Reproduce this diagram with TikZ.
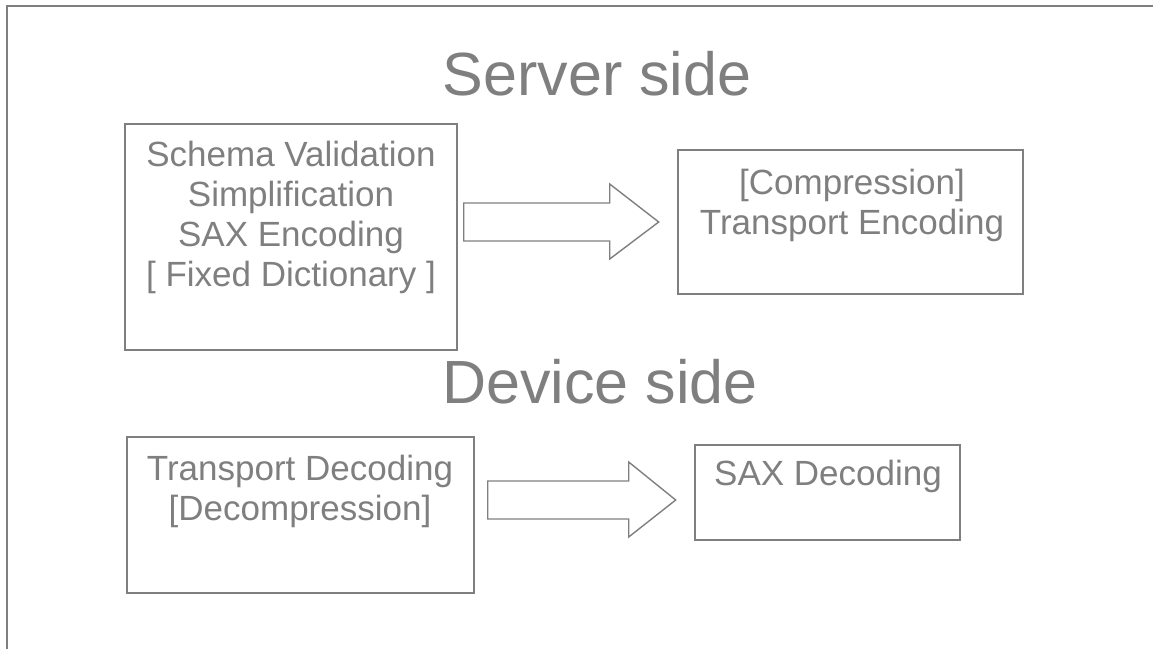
\documentclass[tikz,border=0pt]{standalone}
\usepackage{fontspec}
\setmainfont{Liberation Sans}
\usetikzlibrary{calc}
\definecolor{ink}{HTML}{7F7F7F}
\begin{document}
\begin{tikzpicture}[x=1pt,y=-1pt,
  frame/.style={draw=ink,line width=2pt},
  stage/.style={draw=ink,line width=1.4pt,inner sep=0pt},
  steps/.style={text=ink,align=center,inner sep=0pt,anchor=base,
    font=\fontsize{35}{40}\selectfont},
  heading/.style={text=ink,inner sep=0pt,anchor=base,
    font=\fontsize{61}{70}\selectfont},
  flow/.style={draw=ink,line width=1.4pt,line join=miter}]
\useasboundingbox (0,0) rectangle (1153,649);
% page frame: top and left edges only
\draw[frame] (7,649) -- (7,6) -- (1153,6);

% headings
\node[heading] (server) at (597,95) {Server side};
\node[heading] (device) at (600,403) {Device side};

% server side stages (text nodes anchored at the baseline of their last line)
\node[stage,minimum width=332pt,minimum height=226pt] (enc1) at (291,237) {};
\node[steps] (enc1t) at (291,286) {Schema Validation\\Simplification\\SAX Encoding\\{[} Fixed Dictionary ]};
\node[stage,minimum width=345pt,minimum height=144pt] (enc2) at (850.5,222) {};
\node[steps] (enc2t) at (852,234) {[Compression]\\Transport Encoding};

% device side stages
\node[stage,minimum width=347pt,minimum height=156pt] (dec1) at (300.5,515) {};
\node[steps] (dec1t) at (300,520) {Transport Decoding\\{[}Decompression]};
\node[stage,minimum width=265pt,minimum height=95pt] (dec2) at (827.5,492.5) {};
\node[steps] (dec2t) at (828,485) {SAX Decoding};

% block arrows between stages
\coordinate (a1) at ($(enc1.east |- enc2.center)+(6,-19)$);
\draw[flow] (a1)
  -- ++(146,0) -- ++(0,-19) -- ++(49,38) -- ++(-49,37) -- ++(0,-18) -- ++(-146,0) -- cycle;
\coordinate (a2) at ($(dec1.east |- dec2.center)+(13,-11.5)$);
\draw[flow] (a2)
  -- ++(141,0) -- ++(0,-19) -- ++(47,38) -- ++(-47,37) -- ++(0,-18) -- ++(-141,0) -- cycle;
\end{tikzpicture}
\end{document}
